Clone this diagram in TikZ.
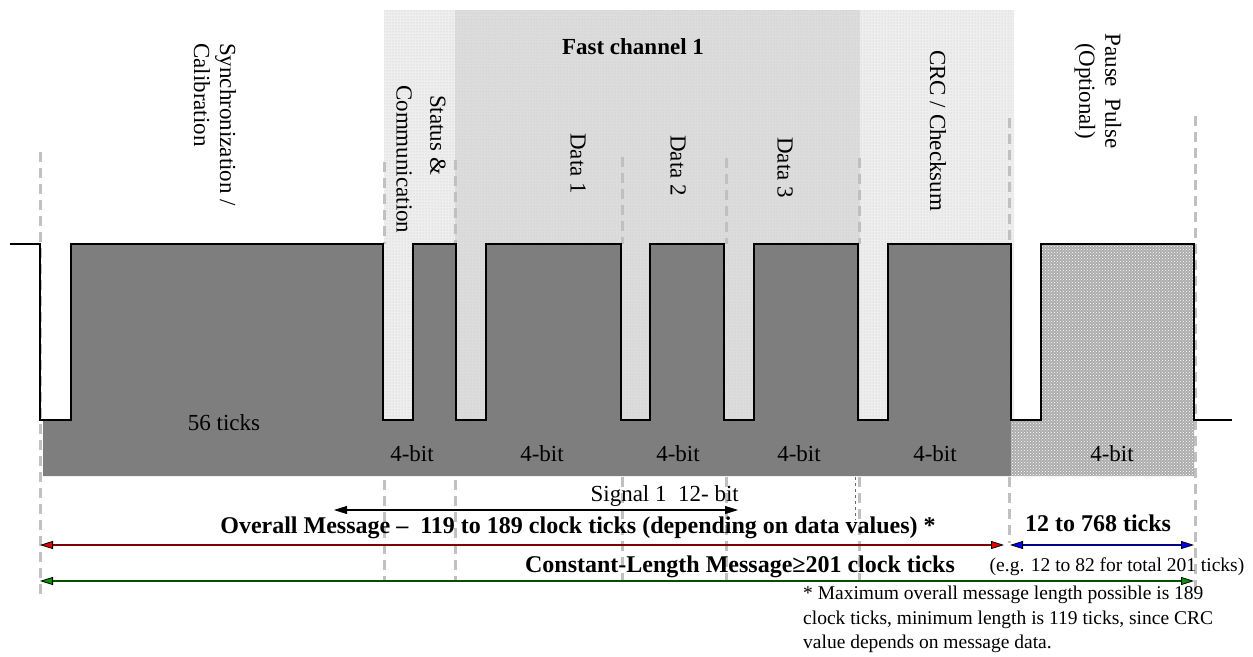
\documentclass[tikz,border=0pt]{standalone}
\usepackage{fontspec}
\setmainfont{Liberation Serif}
\usetikzlibrary{arrows.meta,patterns}
\definecolor{darkfill}{RGB}{126,126,126}
\definecolor{darkline}{RGB}{105,105,105}
\definecolor{pausefill}{RGB}{172,172,172}
\definecolor{fastbg}{RGB}{220,220,220}
\definecolor{lightbg}{RGB}{238,238,238}
\definecolor{guidegray}{RGB}{192,192,192}
\definecolor{msgred}{RGB}{128,0,0}
\definecolor{msgredtip}{RGB}{230,0,0}
\definecolor{msgblue}{RGB}{0,0,140}
\definecolor{msgbluetip}{RGB}{0,0,255}
\definecolor{msggreen}{RGB}{0,80,0}
\definecolor{msggreentip}{RGB}{0,150,0}
\tikzset{
  guide/.style={draw=guidegray, line width=3pt, dash pattern=on 10pt off 6pt},
  lbl/.style={font=\fontsize{23}{26}\selectfont, inner sep=0pt},
  vlbl/.style={lbl, rotate=-90, anchor=west},
  blbl/.style={font=\fontsize{23}{26}\selectfont\bfseries, inner sep=0pt},
  bigblbl/.style={font=\fontsize{24}{27}\selectfont\bfseries, inner sep=0pt},
  smalllbl/.style={font=\fontsize{19.5}{24.5}\selectfont, inner sep=0pt},
  redtip/.tip={Triangle[length=13pt,width=8pt,fill=msgredtip,color=black,line width=0.8pt]},
  bluetip/.tip={Triangle[length=13pt,width=8pt,fill=msgbluetip,color=black,line width=0.8pt]},
  greentip/.tip={Triangle[length=13pt,width=8pt,fill=msggreentip,color=black,line width=0.8pt]},
  blacktip/.tip={Triangle[length=13pt,width=8pt,fill=black,color=black,line width=0.8pt]},
  dimline/.style={line width=2.5pt},
  wave/.style={draw=black, line width=1.3pt},
}
\begin{document}
\begin{tikzpicture}[x=1pt,y=-1pt]
\useasboundingbox (0,0) rectangle (1253,656);
% background columns
\fill[lightbg] (384,10) rectangle (455,420);
\fill[fastbg] (455,10) rectangle (860,420);
\fill[lightbg] (860,10) rectangle (1014,420);
\path[pattern=dots, pattern color=gray!45] (384,10) rectangle (1014,420);
% guide lines
\draw[guide] (40,152) -- (40,598);
\draw[guide] (384,162) -- (384,244);
\draw[guide] (384,480) -- (384,582);
\draw[guide] (455,160) -- (455,244);
\draw[guide] (455,480) -- (455,582);
\draw[guide] (622,157) -- (622,244);
\draw[guide] (622,477) -- (622,582);
\draw[guide] (726,158) -- (726,244);
\draw[guide] (726,477) -- (726,582);
\draw[guide] (859,158) -- (859,244);
\draw[guide] (859,477) -- (859,582);
\draw[guide] (1009,118) -- (1009,244);
\draw[guide] (1009,477) -- (1009,543);
\draw[guide] (1195,116) -- (1195,592);
\draw[darkline, line width=1pt, dashed] (855,477) -- (855,520);
% dark data fill
\fill[darkfill]
  (43,476) -- (43,420) -- (71,420) -- (71,244) -- (383,244) -- (383,420) -- (413,420) -- (413,244)
  -- (456,244) -- (456,420) -- (486,420) -- (486,244) -- (621,244) -- (621,420) -- (650,420)
  -- (650,244) -- (724,244) -- (724,420) -- (754,420) -- (754,244) -- (858,244) -- (858,420)
  -- (888,420) -- (888,244) -- (1011,244) -- (1011,476) -- cycle;
% pause fill
\fill[pausefill, postaction={pattern=crosshatch dots, pattern color=white}]
  (1011,476) -- (1011,420) -- (1041,420) -- (1041,244) -- (1194,244) -- (1194,476) -- cycle;
% waveform
\draw[wave] (10,244) -- (40,244) -- (40,420) -- (71,420) -- (71,244) -- (383,244) -- (383,420)
  -- (413,420) -- (413,244) -- (456,244) -- (456,420) -- (486,420) -- (486,244) -- (621,244)
  -- (621,420) -- (650,420) -- (650,244) -- (724,244) -- (724,420) -- (754,420) -- (754,244)
  -- (858,244) -- (858,420) -- (888,420) -- (888,244) -- (1011,244) -- (1011,420) -- (1041,420)
  -- (1041,244) -- (1194,244) -- (1194,420) -- (1232,420);
% vertical labels
\node[vlbl, align=left] (sync) at (215,43) {Synchronization /\\Calibration};
\node[vlbl] (status) at (438,95) {Status \&};
\node[vlbl] (comm) at (404,85) {Communication};
\node[vlbl] (d1) at (578,133) {Data 1};
\node[vlbl] (d2) at (678,135) {Data 2};
\node[vlbl] (d3) at (785,137) {Data 3};
\node[vlbl] (crc) at (938,50) {CRC / Checksum};
\node[lbl, rotate=-90, align=center] (pause) at (1098,91) {Pause\ \ Pulse\\(Optional)};
\node[blbl] (fast) at (633,47) {Fast channel 1};
% bit labels
\node[lbl] (ticks56) at (224,423) {56 ticks};
\node[lbl] (b1) at (412,454) {4-bit};
\node[lbl] (b2) at (542,454) {4-bit};
\node[lbl] (b3) at (678,454) {4-bit};
\node[lbl] (b4) at (799,454) {4-bit};
\node[lbl] (b5) at (935,454) {4-bit};
\node[lbl] (b6) at (1112,454) {4-bit};
% arrows
\coordinate (sigL) at (334,510);
\coordinate (sigR) at (738,510);
\draw[line width=2pt, {blacktip}-{blacktip}] (sigL) -- (sigR);
\node[lbl, anchor=south east] (sig) at (739,507) {Signal 1\ \ 12- bit};
\coordinate (ovL) at (40,545);
\coordinate (ovR) at (1004,545);
\draw[dimline, msgred, {redtip}-{redtip}] (ovL) -- (ovR);
\coordinate (paL) at (1010,545);
\coordinate (paR) at (1194,545);
\draw[dimline, msgblue, {bluetip}-{bluetip}] (paL) -- (paR);
\coordinate (clL) at (40,581);
\coordinate (clR) at (1194,581);
\draw[dimline, msggreen, {greentip}-{greentip}] (clL) -- (clR);
\node[bigblbl] (overall) at (578,528) {Overall Message –\ \ 119 to 189 clock ticks (depending on data values) *};
\node[bigblbl] (pauselen) at (1098,523) {12 to 768 ticks};
\node[bigblbl] (constlen) at (740,567) {Constant-Length Message≥201 clock ticks};
\node[smalllbl] (eg) at (1117,567) {(e.g. 12 to 82 for total 201 ticks)};
\node[smalllbl, anchor=north west, align=left] (note) at (803,586)
  {* Maximum overall message length possible is 189\\clock ticks, minimum length is 119 ticks, since CRC\\value depends on message data.};
\end{tikzpicture}
\end{document}
